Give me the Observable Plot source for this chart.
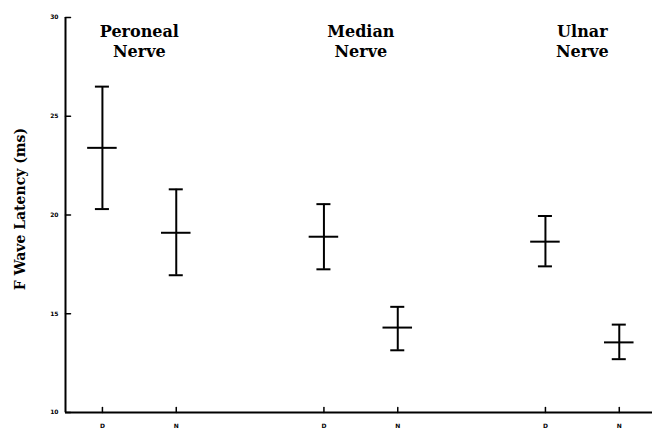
<!DOCTYPE html>
<html>
<head>
<meta charset="utf-8">
<script src="https://cdn.jsdelivr.net/npm/d3@7"></script>
<script src="https://cdn.jsdelivr.net/npm/@observablehq/plot@0.6"></script>
<style>
  body { margin: 0; background: #fff; }
</style>
</head>
<body>
<div id="chart"></div>
<script>
// F wave latency (ms), mean with upper/lower bounds, per nerve and group
const nerves = ["Peroneal", "Median", "Ulnar"];
const groups = ["D", "N"];
const means = [23.4, 19.1, 18.9, 14.3, 18.65, 13.55];
const lows  = [20.3, 16.95, 17.25, 13.15, 17.4, 12.7];
const highs = [26.5, 21.3, 20.55, 15.35, 19.95, 14.45];
const yTicks = [10, 15, 20, 25, 30];
const yLabel = "F Wave Latency (ms)";

// each nerve takes two slots (D, N) followed by an empty gap slot
const rows = means.map((m, i) => ({
  nerve: nerves[Math.floor(i / 2)],
  group: groups[i % 2],
  slot: Math.floor(i / 2) * 3 + (i % 2),
  mean: m,
  low: lows[i],
  high: highs[i]
}));

const xDomain = [-0.5, 7.45];
const CAP = 0.095;   // half-width of the whisker caps (x units)
const BAR = 0.2;     // half-width of the mean bar (x units)

// a plain straight stub used for inward-pointing ticks
const stub = { draw(ctx, l) { ctx.moveTo(0, 0); ctx.lineTo(0, -l); } };

const serif = "'DejaVu Serif', 'Liberation Serif', serif";

const chart = Plot.plot({
  width: 652,
  height: 430,
  marginTop: 17,
  marginLeft: 65,
  marginRight: 0,
  marginBottom: 18,
  style: { background: "#fff", color: "#000", fontFamily: serif },
  x: { domain: xDomain, axis: null },
  y: { domain: [yTicks[0], yTicks[yTicks.length - 1]], axis: null },
  marks: [
    // axis lines
    Plot.ruleX([xDomain[0]], { stroke: "#000", strokeWidth: 2 }),
    Plot.ruleY([yTicks[0]], { stroke: "#000", strokeWidth: 2 }),
    // inward y ticks
    Plot.vector(yTicks, { y: d => d, frameAnchor: "left", rotate: 90, length: 5, anchor: "start", shape: stub, stroke: "#000", strokeWidth: 1.5 }),
    // inward x ticks
    Plot.vector(rows, { x: "slot", frameAnchor: "bottom", length: 5, anchor: "start", shape: stub, stroke: "#000", strokeWidth: 1.5 }),
    // y tick labels
    Plot.axisY({ ticks: yTicks, tickSize: 0, tickPadding: 7, fontSize: 6, fontWeight: "bold", label: null, fontFamily: "'DejaVu Sans', sans-serif" }),
    // x tick labels
    Plot.axisX({ ticks: rows.map(d => d.slot), tickFormat: s => groups[s % 3], tickSize: 0, tickPadding: 11, fontSize: 6, fontWeight: "bold", label: null, fontFamily: "'DejaVu Sans', sans-serif" }),
    // whiskers
    Plot.ruleX(rows, { x: "slot", y1: "low", y2: "high", stroke: "#000", strokeWidth: 2 }),
    Plot.ruleY(rows, { y: "high", x1: d => d.slot - CAP, x2: d => d.slot + CAP, stroke: "#000", strokeWidth: 2 }),
    Plot.ruleY(rows, { y: "low", x1: d => d.slot - CAP, x2: d => d.slot + CAP, stroke: "#000", strokeWidth: 2 }),
    // mean bars
    Plot.ruleY(rows, { y: "mean", x1: d => d.slot - BAR, x2: d => d.slot + BAR, stroke: "#000", strokeWidth: 2 }),
    // nerve titles
    Plot.text(nerves, {
      x: (d, i) => i * 3 + 0.5,
      text: d => d + "\nNerve",
      frameAnchor: "top",
      lineAnchor: "top",
      dy: 5,
      lineHeight: 1.25,
      fontSize: 16,
      fontWeight: "bold",
      fontFamily: serif,
      fill: "#000"
    }),
    // y axis title
    Plot.text([yLabel], {
      frameAnchor: "left",
      textAnchor: "middle",
      rotate: -90,
      dx: -45,
      dy: -6,
      fontSize: 14,
      fontWeight: "bold",
      fontFamily: serif,
      fill: "#000"
    })
  ]
});

document.getElementById("chart").append(chart);
</script>
</body>
</html>
